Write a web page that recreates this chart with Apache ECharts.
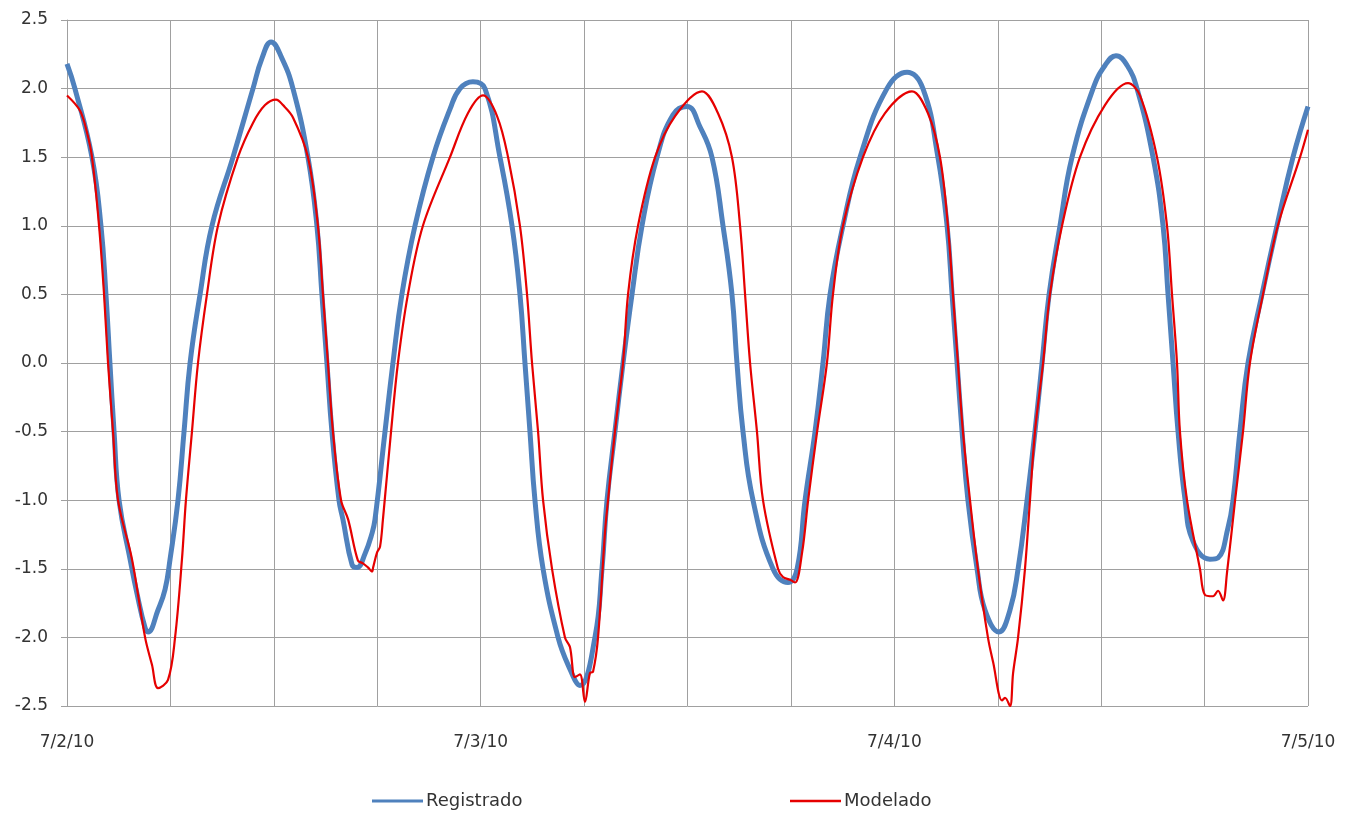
<!DOCTYPE html>
<html>
<head>
<meta charset="utf-8">
<script src="https://cdn.jsdelivr.net/npm/echarts@6/dist/echarts.min.js"></script>
<style>html,body{margin:0;padding:0;background:#fff}#c{width:1358px;height:813px}</style>
</head>
<body>
<div id="c"></div>
<script>
// Hours since 7/2/10 00:00
const dateLabels = ['7/2/10', '7/3/10', '7/4/10', '7/5/10'];
const yTicks = [-2.5, -2.0, -1.5, -1.0, -0.5, 0.0, 0.5, 1.0, 1.5, 2.0, 2.5];

const regHours = [0.00,0.46,1.45,1.97,2.26,2.49,2.73,3.02,3.66,4.06,4.53,4.70,5.28,5.69,5.98,6.44,6.79,7.14,7.72,8.41,9.63,10.79,11.31,11.84,12.47,13.11,13.98,14.50,14.79,15.08,15.37,15.78,16.01,16.54,16.83,17.29,17.70,17.87,18.45,18.91,19.43,20.19,21.23,22.22,22.80,23.55,24.25,25.12,25.82,26.28,26.57,26.86,27.15,27.62,28.49,29.07,29.76,30.63,31.04,31.33,31.79,32.26,32.78,33.36,34.23,35.16,35.97,36.73,37.42,38.06,38.58,38.87,39.22,39.80,40.96,41.83,42.36,42.82,43.40,43.86,44.27,45.02,46.01,47.57,48.74,49.66,50.53,51.06,51.35,51.64,51.93,52.27,52.80,53.26,54.07,54.71,55.18,55.70,56.16,56.57,56.98,57.61,58.31,59.53,60.23,60.86,61.50,62.08,63.01,63.59,63.88,64.17,64.46,64.87,65.33,66.31,66.78,67.36,67.65,68.05,68.52,69.33,70.20,71.13,72.00];
const regValues = [2.18,2.00,1.50,1.00,0.50,0.00,-0.50,-1.00,-1.43,-1.68,-1.93,-1.96,-1.80,-1.65,-1.43,-1.00,-0.50,0.00,0.50,1.00,1.50,2.00,2.22,2.34,2.22,2.00,1.50,1.00,0.50,0.00,-0.50,-1.00,-1.14,-1.47,-1.49,-1.39,-1.24,-1.14,-0.50,0.00,0.50,1.00,1.50,1.85,2.00,2.05,2.00,1.50,1.00,0.50,0.00,-0.50,-1.00,-1.50,-2.00,-2.20,-2.35,-2.00,-1.50,-1.00,-0.50,0.00,0.50,1.00,1.50,1.81,1.87,1.72,1.50,1.00,0.50,0.00,-0.50,-1.00,-1.50,-1.60,-1.50,-1.00,-0.50,0.00,0.50,1.00,1.50,2.00,2.12,2.00,1.50,1.00,0.50,0.00,-0.50,-1.00,-1.50,-1.80,-1.96,-1.80,-1.50,-1.00,-0.50,0.00,0.50,1.00,1.50,2.00,2.17,2.24,2.17,2.00,1.50,1.00,0.50,0.00,-0.50,-1.00,-1.30,-1.43,-1.42,-1.20,-1.00,-0.50,0.00,0.50,1.00,1.50,1.87];

const modHours = [0.00,0.75,1.16,1.45,1.86,2.15,2.38,2.67,2.96,3.77,4.53,4.93,5.28,5.86,6.27,6.67,6.90,7.25,7.60,8.12,8.76,9.92,10.79,11.49,12.13,12.53,13.11,13.98,14.56,14.85,15.14,15.43,15.90,16.31,16.88,17.17,17.46,17.70,17.76,17.99,18.16,18.33,18.80,19.20,19.78,20.65,22.22,23.26,24.14,24.95,25.59,26.28,26.69,26.98,27.33,27.62,28.14,28.89,29.18,29.47,29.76,30.05,30.34,30.52,30.81,31.21,31.39,31.79,32.26,32.55,33.13,34.12,35.28,36.84,37.77,38.58,39.05,39.34,39.63,40.03,40.38,41.25,41.54,41.95,42.24,42.65,43.00,43.52,44.09,44.44,45.02,46.18,47.45,49.02,49.95,50.65,51.11,51.40,51.69,51.98,52.39,52.85,53.43,53.73,54.25,54.42,54.71,54.89,55.18,55.58,55.87,56.16,56.63,57.03,57.73,58.77,60.22,61.56,62.25,63.24,63.82,64.11,64.40,64.57,64.98,65.73,66.02,66.49,66.78,67.07,67.30,67.77,68.23,68.63,69.39,70.25,71.54,72.00];
const modValues = [1.95,1.84,1.68,1.50,1.00,0.50,0.00,-0.50,-1.00,-1.43,-2.00,-2.20,-2.37,-2.31,-2.00,-1.43,-1.00,-0.50,0.00,0.50,1.00,1.50,1.75,1.88,1.92,1.88,1.79,1.50,1.00,0.50,0.00,-0.50,-1.00,-1.14,-1.44,-1.46,-1.49,-1.52,-1.49,-1.38,-1.34,-1.14,-0.50,0.00,0.50,1.00,1.50,1.82,1.95,1.80,1.50,1.00,0.50,0.00,-0.50,-1.00,-1.50,-2.00,-2.07,-2.29,-2.27,-2.47,-2.26,-2.25,-2.00,-1.24,-1.00,-0.50,0.00,0.50,1.00,1.50,1.80,1.98,1.82,1.50,1.00,0.50,0.00,-0.50,-1.00,-1.50,-1.56,-1.58,-1.60,-1.38,-1.00,-0.50,0.00,0.50,1.00,1.50,1.82,1.98,1.82,1.50,1.00,0.50,0.00,-0.50,-1.00,-1.50,-2.00,-2.18,-2.46,-2.44,-2.50,-2.26,-2.00,-1.50,-1.00,-0.50,0.00,0.50,1.00,1.50,1.88,2.04,1.95,1.50,1.00,0.50,0.00,-0.50,-1.00,-1.50,-1.69,-1.70,-1.66,-1.73,-1.53,-1.00,-0.50,0.00,0.50,1.00,1.50,1.70];

const regData = regHours.map((h, i) => [h, regValues[i]]);
const modData = modHours.map((h, i) => [h, modValues[i]]);

const chart = echarts.init(document.getElementById('c'), null, {renderer: 'canvas'});
const gridColor = '#a0a0a0';
const fontFam = 'DejaVu Sans, Noto Sans, sans-serif';
const labelFont = {color: '#333', fontSize: 17, fontFamily: fontFam};

chart.setOption({
  animation: false,
  backgroundColor: '#fff',
  grid: {left: 67, right: 50, top: 20, bottom: 107, containLabel: false},
  legend: [
    {
      left: 367, top: 787, itemWidth: 51, itemHeight: 3, itemGap: 4, icon: 'rect',
      textStyle: {color: '#333', fontSize: 18, fontFamily: fontFam, padding: [0, 0, 0, -2]},
      data: ['Registrado']
    },
    {
      left: 785, top: 787, itemWidth: 51, itemHeight: 2.5, itemGap: 4, icon: 'rect',
      textStyle: {color: '#333', fontSize: 18, fontFamily: fontFam, padding: [0, 0, 0, -2]},
      data: ['Modelado']
    }
  ],
  xAxis: {
    type: 'value', min: 0, max: 72, interval: 24,
    axisLine: {show: true, lineStyle: {color: gridColor, width: 1}},
    axisTick: {show: true, length: 6, lineStyle: {color: gridColor}},
    axisLabel: Object.assign({margin: 28, formatter: v => dateLabels[Math.round(v / 24)] || ''}, labelFont),
    splitLine: {show: true, lineStyle: {color: gridColor, width: 1}},
    minorTick: {show: false, splitNumber: 4},
    minorSplitLine: {show: true, lineStyle: {color: gridColor, width: 1}}
  },
  yAxis: {
    type: 'value', min: yTicks[0], max: yTicks[yTicks.length - 1], interval: 0.5,
    axisLine: {show: true, lineStyle: {color: gridColor, width: 1}},
    axisTick: {show: true, length: 6, lineStyle: {color: gridColor}},
    axisLabel: Object.assign({margin: 19, formatter: v => v.toFixed(1)}, labelFont),
    splitLine: {show: true, lineStyle: {color: gridColor, width: 1}}
  },
  series: [
    {
      name: 'Registrado', type: 'line', data: regData, symbol: 'none', smooth: 0.45,
      lineStyle: {color: '#4F81BD', width: 5}, itemStyle: {color: '#4F81BD'}, z: 2
    },
    {
      name: 'Modelado', type: 'line', data: modData, symbol: 'none', smooth: 0.35,
      lineStyle: {color: '#E60000', width: 2.2}, itemStyle: {color: '#E60000'}, z: 3
    }
  ]
});
</script>
</body>
</html>
